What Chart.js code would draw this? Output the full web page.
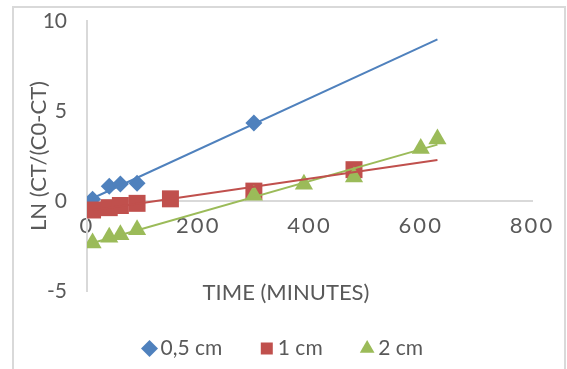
<!DOCTYPE html>
<html>
<head>
<meta charset="utf-8">
<script src="https://cdn.jsdelivr.net/npm/chart.js@4/dist/chart.umd.min.js"></script>
<style>
  html, body { margin: 0; padding: 0; background: #ffffff; }
  #wrap { position: relative; width: 567px; height: 369px; overflow: hidden; }
  #frame { position: absolute; left: 12px; top: 6px; width: 554px; height: 400px;
           border: 2px solid #d9d9d9; box-sizing: border-box; }
  #c { position: absolute; left: 0; top: 0; }
</style>
</head>
<body>
<div id="wrap">
  <div id="frame"></div>
  <canvas id="c" width="567" height="369"></canvas>
</div>
<script>
// Series names shown in the legend
const seriesLabels = ['0,5 cm', '1 cm', '2 cm'];

// Time (minutes) and ln(Ct/(C0-Ct)) for each thickness
const timeHalfCm = [10, 40, 60, 90, 300];
const lnHalfCm   = [0.1, 0.82, 0.94, 0.98, 4.33];

const timeOneCm = [10, 40, 60, 90, 150, 300, 480];
const lnOneCm   = [-0.5, -0.37, -0.25, -0.13, 0.12, 0.55, 1.74];

const timeTwoCm = [10, 40, 60, 90, 300, 390, 480, 600, 630];
const lnTwoCm   = [-2.33, -2.02, -1.88, -1.6, 0.32, 0.93, 1.33, 2.92, 3.45];

// Axis tick values
const xTickValues = [0, 200, 400, 600, 800];
const yTickValues = [-5, 0, 5, 10];

// Styling
const seriesColors = ['#4F81BD', '#C0504D', '#9BBB59'];
const seriesMarkers = ['rectRot', 'rect', 'triangle'];
const markerRadius = [8.5, 12, 10.5];
const textColor = '#595959';
const axisColor = '#d9d9d9';
const fontFamily = 'Lato, "Liberation Sans", sans-serif';

function pointsOf(xs, ys) {
  return xs.map((x, i) => ({ x: x, y: ys[i] }));
}

// Ordinary least-squares fit y = intercept + slope * x
function leastSquares(xs, ys) {
  const n = xs.length;
  const mx = xs.reduce((a, b) => a + b, 0) / n;
  const my = ys.reduce((a, b) => a + b, 0) / n;
  let sxx = 0, sxy = 0;
  for (let i = 0; i < n; i++) {
    sxx += (xs[i] - mx) * (xs[i] - mx);
    sxy += (xs[i] - mx) * (ys[i] - my);
  }
  const slope = sxy / sxx;
  return { slope: slope, intercept: my - slope * mx };
}

// Trend lines run from each series' first time to the last measured time overall
const lastTime = Math.max(...timeHalfCm, ...timeOneCm, ...timeTwoCm);
function trendOf(xs, ys) {
  const f = leastSquares(xs, ys);
  const x0 = Math.min(...xs);
  return [
    { x: x0, y: f.intercept + f.slope * x0 },
    { x: lastTime, y: f.intercept + f.slope * lastTime }
  ];
}

const seriesTimes = [timeHalfCm, timeOneCm, timeTwoCm];
const seriesValues = [lnHalfCm, lnOneCm, lnTwoCm];

const datasets = [];
seriesLabels.forEach((label, i) => {
  datasets.push({
    label: label,
    data: pointsOf(seriesTimes[i], seriesValues[i]),
    showLine: false,
    pointStyle: seriesMarkers[i],
    pointRadius: markerRadius[i],
    pointHoverRadius: markerRadius[i],
    backgroundColor: seriesColors[i],
    borderColor: seriesColors[i],
    pointBorderWidth: 0,
    borderWidth: 0,
    order: 3 - i
  });
});
seriesLabels.forEach((label, i) => {
  datasets.push({
    label: label + ' trend',
    data: trendOf(seriesTimes[i], seriesValues[i]),
    showLine: true,
    pointRadius: 0,
    borderColor: seriesColors[i],
    backgroundColor: seriesColors[i],
    borderWidth: 2,
    order: 0
  });
});

// Wider letter spacing for the time-axis numbers
const spacedTimeLabels = {
  id: 'spacedTimeLabels',
  beforeDraw(chart) {
    const s = chart.scales.x;
    if (!s || s._spaced) return;
    const draw = s.drawLabels.bind(s);
    s.drawLabels = function (area) {
      const ctx = this.ctx;
      ctx.save();
      ctx.letterSpacing = '2px';
      draw(area);
      ctx.restore();
    };
    s._spaced = true;
  }
};

new Chart(document.getElementById('c'), {
  type: 'scatter',
  data: { datasets: datasets },
  plugins: [spacedTimeLabels],
  options: {
    responsive: false,
    animation: false,
    events: [],
    layout: { padding: { top: 21, left: 40, right: 35, bottom: 0 } },
    scales: {
      x: {
        type: 'linear',
        position: { y: 0 },
        min: xTickValues[0],
        max: xTickValues[xTickValues.length - 1],
        afterBuildTicks: s => { s.ticks = xTickValues.map(v => ({ value: v })); },
        grid: { display: false, drawTicks: false },
        border: { display: true, color: axisColor, width: 2 },
        ticks: {
          padding: 12,
          color: textColor,
          maxRotation: 0,
          font: { family: fontFamily, size: 22 }
        }
      },
      y: {
        type: 'linear',
        min: yTickValues[0],
        max: yTickValues[yTickValues.length - 1],
        afterBuildTicks: s => { s.ticks = yTickValues.map(v => ({ value: v })); },
        afterFit: s => { s.width = 47; },
        grid: { display: false, drawTicks: true, tickLength: 20 },
        border: { display: true, color: axisColor, width: 2 },
        ticks: {
          padding: 0,
          color: textColor,
          font: { family: fontFamily, size: 21 }
        },
        title: {
          display: true,
          text: 'LN (CT/(C0-CT)',
          color: textColor,
          padding: { top: -14, bottom: 0 },
          font: { family: fontFamily, size: 22 }
        }
      }
    },
    plugins: {
      tooltip: { enabled: false },
      title: {
        display: true,
        text: 'TIME (MINUTES)',
        position: 'bottom',
        weight: 500,
        color: textColor,
        padding: { top: -11.2, bottom: -12.2 },
        font: { family: fontFamily, size: 22, weight: 'normal' }
      },
      legend: {
        display: true,
        position: 'bottom',
        labels: {
          usePointStyle: true,
          boxWidth: 1,
          boxHeight: 12,
          padding: 44,
          color: textColor,
          font: { family: fontFamily, size: 21 },
          filter: item => item.datasetIndex < seriesLabels.length,
          sort: (a, b) => a.datasetIndex - b.datasetIndex
        }
      }
    }
  }
});
</script>
</body>
</html>
